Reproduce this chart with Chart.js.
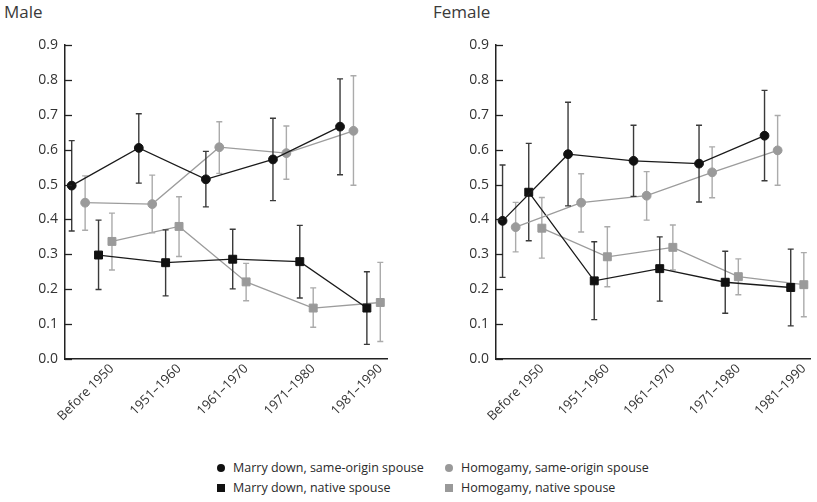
<!DOCTYPE html>
<html>
<head>
<meta charset="utf-8">
<script src="https://cdn.jsdelivr.net/npm/chart.js@4.4.1/dist/chart.umd.min.js"></script>
<style>
  body { margin: 0; background: #fff; font-family: "Open Sans", sans-serif; color: #222; }
  #wrap { position: relative; width: 817px; height: 502px; overflow: hidden; }
  .panel { position: absolute; top: 0; height: 440px; }
  .ttl { position: absolute; top: 0; font-size: 17px; line-height: 24px; color: #3a3a3a; }
  .leg { position: absolute; font-size: 12.5px; line-height: 20px; white-space: nowrap; color: #2a2a2a; }
  .leg span.m { position: absolute; left: 0; top: 6px; width: 8px; height: 8px; }
  .leg span.t { position: absolute; left: 16px; top: 0; }
</style>
</head>
<body>
<div id="wrap">
  <div class="ttl" style="left:4px">Male</div>
  <div class="ttl" style="left:433px">Female</div>
  <div class="panel" style="left:0;width:408px"><canvas id="male"></canvas></div>
  <div class="panel" style="left:408px;width:409px"><canvas id="female"></canvas></div>

  <div class="leg" style="left:217px;top:458px"><span class="m" style="background:#111;border-radius:50%"></span><span class="t">Marry down, same-origin spouse</span></div>
  <div class="leg" style="left:445px;top:458px"><span class="m" style="background:#999;border-radius:50%"></span><span class="t">Homogamy, same-origin spouse</span></div>
  <div class="leg" style="left:217px;top:478px"><span class="m" style="background:#111"></span><span class="t">Marry down, native spouse</span></div>
  <div class="leg" style="left:445px;top:478px"><span class="m" style="background:#999"></span><span class="t">Homogamy, native spouse</span></div>
</div>
<script>
// periodes (categories)
const periods = ['Before 1950', '1951–1960', '1961–1970', '1971–1980', '1981–1990'];
const yTicks = [0, 0.1, 0.2, 0.3, 0.4, 0.5, 0.6, 0.7, 0.8, 0.9];

// Male
const maleDownSame   = [0.497, 0.605, 0.515, 0.572, 0.666];
const maleDownSameLo = [0.367, 0.504, 0.436, 0.454, 0.528];
const maleDownSameHi = [0.626, 0.703, 0.595, 0.690, 0.803];
const maleHomoSame   = [0.448, 0.444, 0.607, 0.590, 0.654];
const maleHomoSameLo = [0.369, 0.362, 0.532, 0.515, 0.498];
const maleHomoSameHi = [0.525, 0.527, 0.680, 0.668, 0.812];
const maleDownNat    = [0.298, 0.276, 0.286, 0.279, 0.146];
const maleDownNatLo  = [0.199, 0.181, 0.201, 0.175, 0.042];
const maleDownNatHi  = [0.398, 0.370, 0.372, 0.383, 0.250];
const maleHomoNat    = [0.337, 0.380, 0.221, 0.146, 0.162];
const maleHomoNatLo  = [0.255, 0.294, 0.167, 0.091, 0.050];
const maleHomoNatHi  = [0.418, 0.465, 0.274, 0.204, 0.277];

// Female
const femDownSame   = [0.396, 0.587, 0.568, 0.560, 0.640];
const femDownSameLo = [0.234, 0.439, 0.466, 0.450, 0.511];
const femDownSameHi = [0.556, 0.736, 0.670, 0.670, 0.770];
const femHomoSame   = [0.378, 0.448, 0.468, 0.535, 0.598];
const femHomoSameLo = [0.307, 0.364, 0.398, 0.462, 0.498];
const femHomoSameHi = [0.449, 0.531, 0.537, 0.608, 0.698];
const femDownNat    = [0.478, 0.224, 0.259, 0.220, 0.205];
const femDownNatLo  = [0.339, 0.113, 0.166, 0.131, 0.095];
const femDownNatHi  = [0.618, 0.336, 0.350, 0.309, 0.315];
const femHomoNat    = [0.375, 0.293, 0.320, 0.236, 0.213];
const femHomoNatLo  = [0.289, 0.207, 0.255, 0.184, 0.121];
const femHomoNatHi  = [0.463, 0.379, 0.384, 0.287, 0.305];

const GROUP = 5; // 4 series + a gap per period

// barres d'error, dibuixades abans de cada serie
const errorBars = {
  id: 'errorBars',
  beforeDatasetDraw(chart, args) {
    const ds = chart.data.datasets[args.index];
    if (!ds.lo) return;
    const ctx = chart.ctx;
    const y = chart.scales.y;
    const meta = args.meta;
    ctx.save();
    ctx.strokeStyle = ds.errColor;
    ctx.lineWidth = 1.4;
    meta.data.forEach((pt, k) => {
      const x = pt.x;
      const top = y.getPixelForValue(ds.hi[k]);
      const bot = y.getPixelForValue(ds.lo[k]);
      ctx.beginPath();
      ctx.moveTo(x, top); ctx.lineTo(x, bot);
      ctx.moveTo(x - 3, top); ctx.lineTo(x + 3, top);
      ctx.moveTo(x - 3, bot); ctx.lineTo(x + 3, bot);
      ctx.stroke();
    });
    ctx.restore();
  }
};

// ticks de l'eix Y cap a dins
const innerTicks = {
  id: 'innerTicks',
  afterDraw(chart) {
    const ctx = chart.ctx;
    const y = chart.scales.y;
    const left = chart.chartArea.left;
    ctx.save();
    ctx.strokeStyle = '#222';
    ctx.lineWidth = 1.3;
    y.ticks.forEach(t => {
      const p = Math.round(y.getPixelForValue(t.value)) + 0.5;
      ctx.beginPath();
      ctx.moveTo(left, p); ctx.lineTo(left + 7, p);
      ctx.stroke();
    });
    ctx.restore();
  }
};

function serie(label, vals, lo, hi, j, dark, style) {
  return {
    label: label,
    data: vals.map((v, i) => ({ x: i * GROUP + j, y: v })),
    lo: lo, hi: hi,
    errColor: dark ? '#3a3a3a' : '#ababab',
    borderColor: dark ? '#1a1a1a' : '#9c9c9c',
    backgroundColor: dark ? '#111' : '#9a9a9a',
    pointBackgroundColor: dark ? '#111' : '#9a9a9a',
    pointBorderColor: dark ? '#111' : '#9a9a9a',
    pointStyle: style,
    pointRadius: style === 'rect' ? 5.6 : 4.4,
    pointBorderWidth: 1,
    borderWidth: 1.3,
    showLine: true,
    tension: 0
  };
}

function makeChart(id, d, yWidth, rightPad) {
  return new Chart(document.getElementById(id), {
    type: 'scatter',
    data: {
      datasets: [
        serie('Marry down, same-origin spouse', d[0], d[1], d[2], 0, true, 'circle'),
        serie('Homogamy, same-origin spouse', d[3], d[4], d[5], 1, false, 'circle'),
        serie('Marry down, native spouse', d[6], d[7], d[8], 2, true, 'rect'),
        serie('Homogamy, native spouse', d[9], d[10], d[11], 3, false, 'rect')
      ]
    },
    options: {
      responsive: true,
      maintainAspectRatio: false,
      animation: false,
      layout: { padding: { top: 45, right: rightPad, bottom: 0, left: 0 } },
      plugins: { legend: { display: false }, tooltip: { enabled: false } },
      scales: {
        x: {
          type: 'linear',
          min: -0.5,
          max: periods.length * GROUP - 1.5,
          afterBuildTicks: s => { s.ticks = periods.map((p, i) => ({ value: i * GROUP + 3 })); },
          afterFit: s => { s.height = 81; },
          grid: { drawOnChartArea: false, drawTicks: false },
          border: { display: true, color: '#222', width: 1.5 },
          ticks: {
            autoSkip: false,
            minRotation: 45,
            maxRotation: 45,
            padding: 2,
            color: '#333',
            font: { family: 'Open Sans', size: 13 },
            callback: v => periods[Math.round((v - 3) / GROUP)]
          }
        },
        y: {
          min: 0,
          max: 0.9,
          afterBuildTicks: s => { s.ticks = yTicks.map(v => ({ value: v })); },
          afterFit: s => { s.width = yWidth; },
          grid: { drawOnChartArea: false, drawTicks: false },
          border: { display: true, color: '#222', width: 1.5 },
          ticks: {
            padding: 7,
            color: '#333',
            font: { family: 'Open Sans', size: 14 },
            callback: v => v.toFixed(1)
          }
        }
      }
    },
    plugins: [errorBars, innerTicks]
  });
}

makeChart('male', [maleDownSame, maleDownSameLo, maleDownSameHi, maleHomoSame, maleHomoSameLo, maleHomoSameHi,
                   maleDownNat, maleDownNatLo, maleDownNatHi, maleHomoNat, maleHomoNatLo, maleHomoNatHi], 65, 21);
makeChart('female', [femDownSame, femDownSameLo, femDownSameHi, femHomoSame, femHomoSameLo, femHomoSameHi,
                     femDownNat, femDownNatLo, femDownNatHi, femHomoNat, femHomoNatLo, femHomoNatHi], 88, 0);
</script>
</body>
</html>
